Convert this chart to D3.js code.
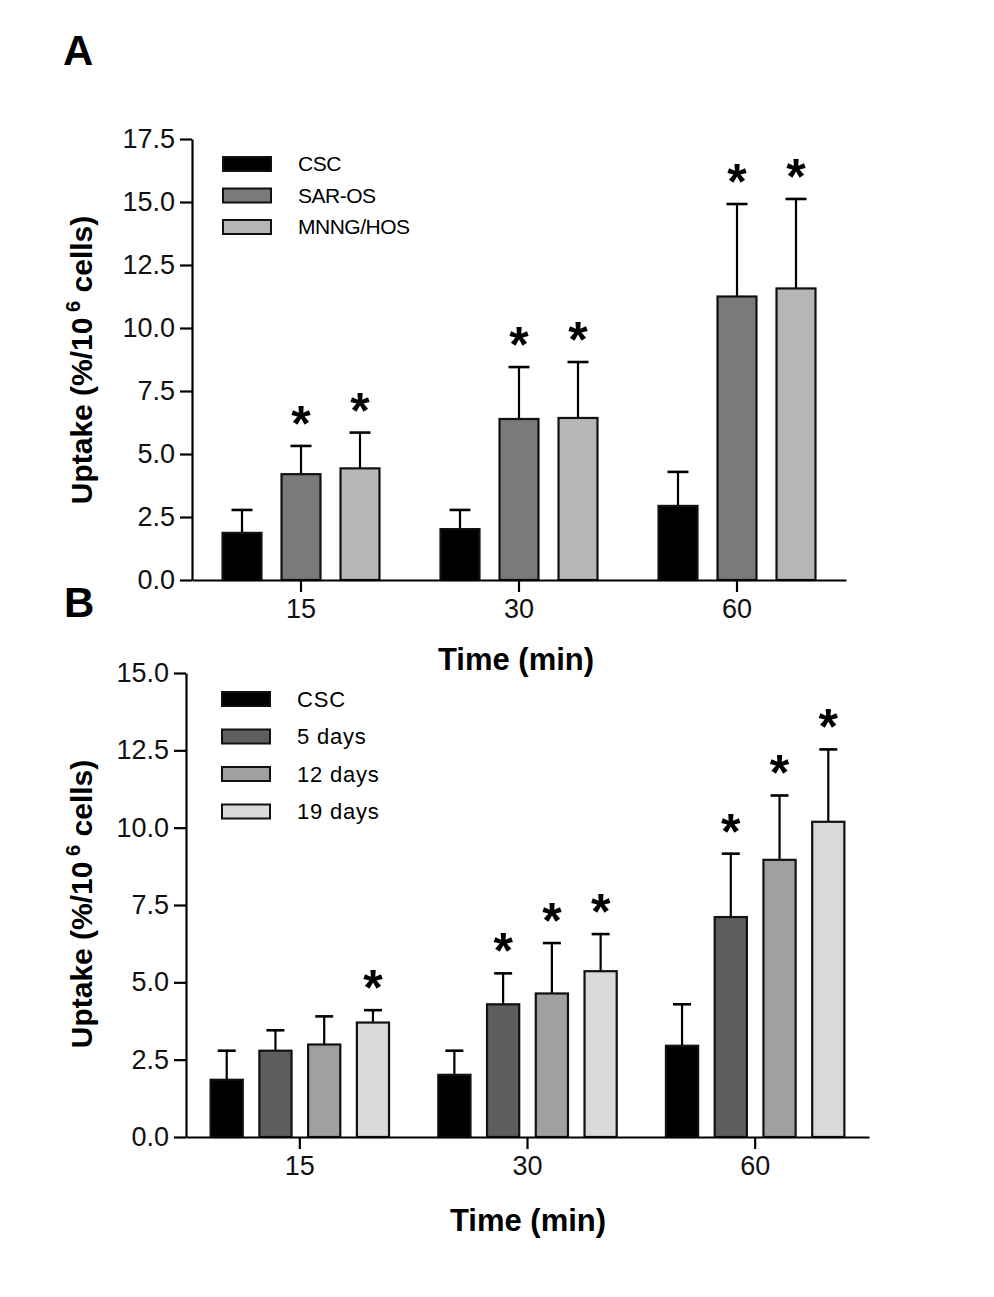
<!DOCTYPE html>
<html>
<head>
<meta charset="utf-8">
<script src="https://cdn.jsdelivr.net/npm/d3@7"></script>
<style>
  html, body { margin: 0; padding: 0; background: #fff; }
  svg { display: block; font-family: "Liberation Sans", Arial, sans-serif; }
</style>
</head>
<body>
<svg id="chart" width="994" height="1297"></svg>
<script>
// ---------- Data ----------
const times = ["15", "30", "60"];

// Panel A
const seriesA = ["CSC", "SAR-OS", "MNNG/HOS"];
const meanA = {
  "CSC":      [1.87, 2.02, 2.94],
  "SAR-OS":   [4.20, 6.39, 11.25],
  "MNNG/HOS": [4.43, 6.43, 11.57]
};
const errTopA = {
  "CSC":      [2.78, 2.78, 4.29],
  "SAR-OS":   [5.32, 8.45, 14.92],
  "MNNG/HOS": [5.85, 8.65, 15.12]
};
const sigA = {
  "CSC":      [false, false, false],
  "SAR-OS":   [true, true, true],
  "MNNG/HOS": [true, true, true]
};
const colorsA = ["#000000", "#7a7a7a", "#b6b6b6"];
const yTicksA = [0, 2.5, 5, 7.5, 10, 12.5, 15, 17.5];

// Panel B
const seriesB = ["CSC", "5 days", "12 days", "19 days"];
const meanB = {
  "CSC":     [1.85, 2.01, 2.95],
  "5 days":  [2.79, 4.29, 7.11],
  "12 days": [2.99, 4.64, 8.96],
  "19 days": [3.70, 5.36, 10.19]
};
const errTopB = {
  "CSC":     [2.79, 2.79, 4.29],
  "5 days":  [3.45, 5.29, 9.16],
  "12 days": [3.90, 6.27, 11.04],
  "19 days": [4.10, 6.56, 12.53]
};
const sigB = {
  "CSC":     [false, false, false],
  "5 days":  [false, true, true],
  "12 days": [false, true, true],
  "19 days": [true, true, true]
};
const colorsB = ["#000000", "#5e5e5e", "#a0a0a0", "#d9d9d9"];
const yTicksB = [0, 2.5, 5, 7.5, 10, 12.5, 15];

const svg = d3.select("#chart");

function drawPanel(cfg) {
  const g = svg.append("g");
  const y = d3.scaleLinear().domain([0, cfg.yMax]).range([cfg.y0, cfg.yTop]);
  const x = d3.scaleBand().domain(times).range([cfg.xL, cfg.xR]).padding(0);
  const xi = d3.scaleBand().domain(cfg.series)
    .range([-cfg.groupW / 2, cfg.groupW / 2])
    .paddingInner(0.34).paddingOuter(0.17);
  const color = d3.scaleOrdinal().domain(cfg.series).range(cfg.colors);

  const items = [];
  cfg.series.forEach(s => times.forEach((t, i) => items.push({
    s, t, v: cfg.mean[s][i], e: cfg.errTop[s][i], sig: cfg.sig[s][i]
  })));

  const cx = d => x(d.t) + x.bandwidth() / 2 + xi(d.s) + xi.bandwidth() / 2;

  // error bars
  const eb = g.append("g").attr("stroke", "#000").attr("stroke-width", 2.2);
  items.forEach(d => {
    const c = cx(d);
    eb.append("line").attr("x1", c).attr("x2", c).attr("y1", y(d.v)).attr("y2", y(d.e));
    eb.append("line").attr("x1", c - cfg.capW / 2).attr("x2", c + cfg.capW / 2)
      .attr("y1", y(d.e)).attr("y2", y(d.e)).attr("stroke-width", 2.6);
  });

  // bars
  g.append("g").selectAll("rect").data(items).join("rect")
    .attr("x", d => cx(d) - xi.bandwidth() / 2)
    .attr("width", xi.bandwidth())
    .attr("y", d => y(d.v))
    .attr("height", d => y(0) - y(d.v))
    .attr("fill", d => color(d.s))
    .attr("stroke", "#111")
    .attr("stroke-width", 2.2);

  // significance asterisks
  g.append("g").selectAll("text").data(items.filter(d => d.sig)).join("text")
    .attr("x", d => cx(d))
    .attr("y", d => y(d.e) - 5)
    .attr("text-anchor", "middle")
    .attr("font-size", 50)
    .attr("font-weight", "bold")
    .text("*");

  // y axis
  const ya = g.append("g").attr("transform", `translate(${cfg.xL},0)`)
    .call(d3.axisLeft(y).tickValues(cfg.yTicks).tickFormat(d3.format(".1f"))
      .tickSize(12).tickSizeOuter(0).tickPadding(5));
  ya.select(".domain").attr("stroke-width", 2.2);
  ya.selectAll(".tick line").attr("stroke-width", 2.2);
  ya.selectAll(".tick text").attr("font-size", 27).attr("font-family", "Liberation Sans, Arial, sans-serif").attr("fill", "#111");

  // x axis
  const xa = g.append("g").attr("transform", `translate(0,${cfg.y0})`)
    .call(d3.axisBottom(x).tickSize(12).tickSizeOuter(0).tickPadding(7));
  xa.select(".domain").attr("stroke-width", 2.2);
  xa.selectAll(".tick line").attr("stroke-width", 2.2);
  xa.selectAll(".tick text").attr("font-size", 27).attr("font-family", "Liberation Sans, Arial, sans-serif").attr("fill", "#111");

  // x title
  g.append("text").attr("x", cfg.xTitleX).attr("y", cfg.xTitleY)
    .attr("text-anchor", "middle").attr("font-size", 31).attr("font-weight", "bold")
    .text("Time (min)");

  // y title
  const yt = g.append("text")
    .attr("transform", `translate(${cfg.yTitleX},${cfg.yTitleY}) rotate(-90)`)
    .attr("text-anchor", "middle").attr("font-size", 30).attr("font-weight", "bold");
  yt.append("tspan").text("Uptake (%/10");
  yt.append("tspan").attr("dy", -12).attr("font-size", 20).text(" 6");
  yt.append("tspan").attr("dy", 12).text(" cells)");

  // legend
  const lg = g.append("g");
  cfg.series.forEach((s, i) => {
    const ly = cfg.legY + i * cfg.legStep;
    lg.append("rect").attr("x", cfg.legX).attr("y", ly).attr("width", 48).attr("height", 14)
      .attr("fill", color(s)).attr("stroke", "#111").attr("stroke-width", 2);
    lg.append("text").attr("x", cfg.legX + 75).attr("y", ly + 7).attr("dy", "0.35em")
      .attr("font-size", cfg.legFont).attr("letter-spacing", cfg.legLS).text(s);
  });

  // panel letter
  g.append("text").attr("x", cfg.letterX).attr("y", cfg.letterY)
    .attr("font-size", 42).attr("font-weight", "bold").text(cfg.letter);
}

drawPanel({
  series: seriesA, mean: meanA, errTop: errTopA, sig: sigA, colors: colorsA,
  yTicks: yTicksA, yMax: 17.5, y0: 580, yTop: 139, xL: 192, xR: 846,
  groupW: 177, capW: 21,
  xTitleX: 516, xTitleY: 670, yTitleX: 92, yTitleY: 360,
  legX: 223, legY: 157, legStep: 31.5, legFont: 21, legLS: -0.5,
  letter: "A", letterX: 63, letterY: 65
});

drawPanel({
  series: seriesB, mean: meanB, errTop: errTopB, sig: sigB, colors: colorsB,
  yTicks: yTicksB, yMax: 15, y0: 1137, yTop: 673, xL: 186, xR: 869,
  groupW: 195, capW: 18,
  xTitleX: 528, xTitleY: 1231, yTitleX: 92, yTitleY: 904,
  legX: 222, legY: 692, legStep: 37.5, legFont: 22, legLS: 0.8,
  letter: "B", letterX: 64, letterY: 617
});
</script>
</body>
</html>
